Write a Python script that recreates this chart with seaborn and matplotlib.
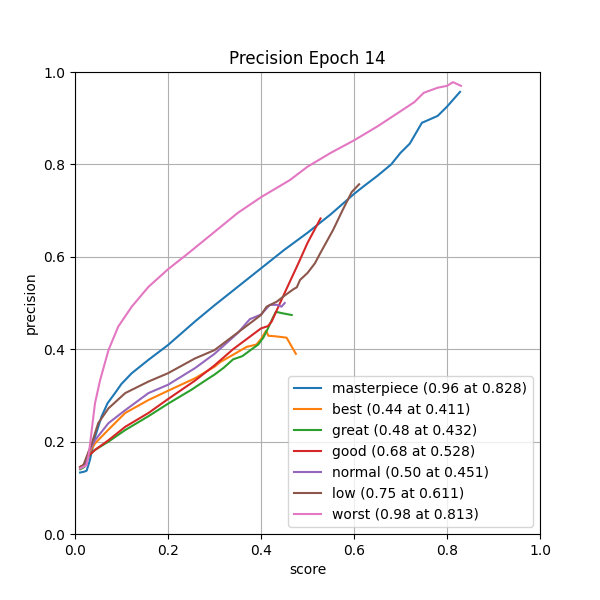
import numpy as np
import matplotlib
matplotlib.use('Agg')
import matplotlib.pyplot as plt
import pandas as pd
import seaborn as sn

# legend labels: name (max precision at score)
labels = ['masterpiece (0.96 at 0.828)', 'best (0.44 at 0.411)', 'great (0.48 at 0.432)',
          'good (0.68 at 0.528)', 'normal (0.50 at 0.451)', 'low (0.75 at 0.611)',
          'worst (0.98 at 0.813)']

masterpiece_x = [0.011, 0.02, 0.025, 0.032, 0.043, 0.057, 0.07, 0.086, 0.1, 0.122, 0.158, 0.2, 0.258, 0.3, 0.35,
                 0.4, 0.45, 0.5, 0.55, 0.6, 0.62, 0.65, 0.68, 0.7, 0.72, 0.746, 0.78, 0.8, 0.828]
masterpiece_y = [0.133, 0.135, 0.137, 0.16, 0.21, 0.254, 0.283, 0.305, 0.325, 0.348, 0.377, 0.409, 0.46, 0.495, 0.535,
                 0.575, 0.615, 0.652, 0.692, 0.736, 0.752, 0.775, 0.8, 0.825, 0.845, 0.89, 0.905, 0.925, 0.957]

best_x = [0.011, 0.02, 0.03, 0.043, 0.072, 0.108, 0.158, 0.2, 0.258, 0.3, 0.312, 0.34, 0.369,
          0.39, 0.4, 0.411, 0.416, 0.43, 0.455, 0.475]
best_y = [0.145, 0.15, 0.175, 0.196, 0.226, 0.262, 0.29, 0.31, 0.337, 0.362, 0.372, 0.388, 0.405,
          0.41, 0.422, 0.44, 0.429, 0.428, 0.425, 0.39]

great_x = [0.011, 0.02, 0.03, 0.043, 0.072, 0.108, 0.158, 0.2, 0.25, 0.283, 0.3, 0.32, 0.34,
           0.36, 0.38, 0.394, 0.405, 0.415, 0.424, 0.432, 0.445, 0.466]
great_y = [0.14, 0.145, 0.17, 0.182, 0.2, 0.225, 0.255, 0.282, 0.312, 0.334, 0.345, 0.36, 0.378,
           0.385, 0.4, 0.41, 0.425, 0.445, 0.465, 0.481, 0.478, 0.474]

good_x = [0.011, 0.02, 0.03, 0.043, 0.072, 0.108, 0.158, 0.2, 0.258, 0.3, 0.34, 0.36,
          0.376, 0.4, 0.415, 0.423, 0.45, 0.48, 0.5, 0.528]
good_y = [0.145, 0.15, 0.17, 0.182, 0.203, 0.232, 0.262, 0.292, 0.332, 0.365, 0.4, 0.415,
          0.427, 0.445, 0.45, 0.46, 0.52, 0.585, 0.63, 0.683]

normal_x = [0.011, 0.02, 0.03, 0.043, 0.072, 0.108, 0.158, 0.2, 0.258, 0.3, 0.35, 0.376,
            0.4, 0.419, 0.435, 0.444, 0.451]
normal_y = [0.142, 0.148, 0.178, 0.203, 0.24, 0.268, 0.305, 0.323, 0.359, 0.39, 0.435, 0.465,
            0.475, 0.496, 0.496, 0.492, 0.5]

low_x = [0.011, 0.018, 0.036, 0.05, 0.072, 0.108, 0.158, 0.2, 0.258, 0.3, 0.35, 0.4,
         0.412, 0.434, 0.452, 0.47, 0.477, 0.484, 0.5, 0.516, 0.527, 0.555, 0.575, 0.595, 0.611]
low_y = [0.145, 0.149, 0.196, 0.24, 0.272, 0.305, 0.33, 0.348, 0.38, 0.398, 0.436, 0.474,
         0.492, 0.503, 0.517, 0.53, 0.534, 0.55, 0.565, 0.586, 0.607, 0.658, 0.7, 0.74, 0.757]

worst_x = [0.011, 0.025, 0.03, 0.036, 0.043, 0.054, 0.072, 0.093, 0.122, 0.158, 0.2, 0.244,
           0.305, 0.35, 0.4, 0.462, 0.5, 0.55, 0.6, 0.65, 0.7, 0.73, 0.75, 0.78, 0.8, 0.813, 0.83]
worst_y = [0.142, 0.149, 0.175, 0.225, 0.283, 0.333, 0.398, 0.449, 0.492, 0.535, 0.573, 0.608,
           0.658, 0.695, 0.729, 0.766, 0.795, 0.825, 0.852, 0.882, 0.915, 0.935, 0.955, 0.966, 0.97, 0.978, 0.97]

xs = [masterpiece_x, best_x, great_x, good_x, normal_x, low_x, worst_x]
ys = [masterpiece_y, best_y, great_y, good_y, normal_y, low_y, worst_y]

frames = []
for lab, x, y in zip(labels, xs, ys):
    frames.append(pd.DataFrame({'score': x, 'precision': y, 'class': lab}))
df = pd.concat(frames, ignore_index=True)

fig, ax = plt.subplots(figsize=(6, 6), dpi=100)
sn.lineplot(data=df, x='score', y='precision', hue='class', hue_order=labels,
            palette='tab10', sort=False, estimator=None, ax=ax, linewidth=1.5)
ax.set_xlim(0, 1)
ax.set_ylim(0, 1)
ax.grid(True)
ax.set_title('Precision Epoch 14')
sn.move_legend(ax, 'lower right', title=None)
plt.savefig('out.png')
